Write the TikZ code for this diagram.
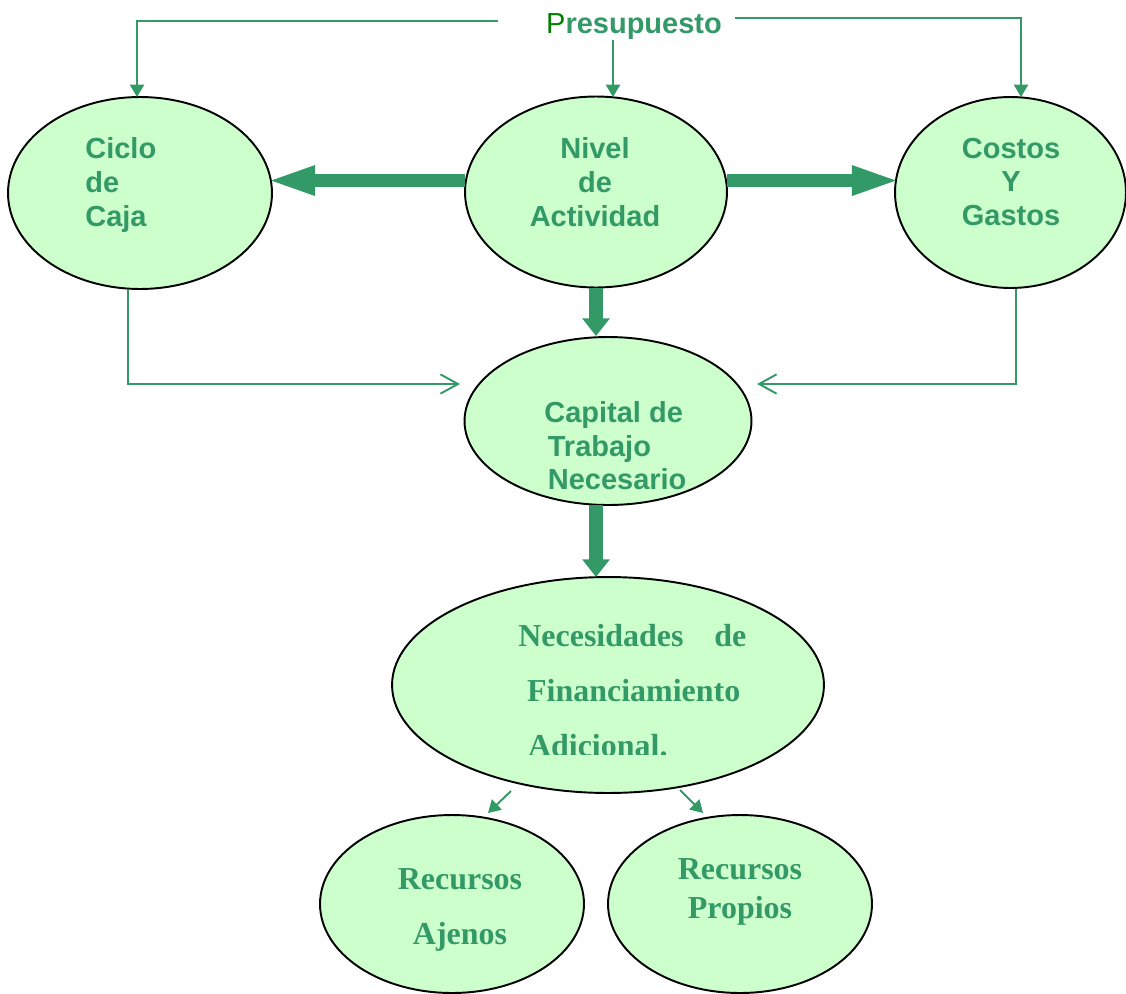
\documentclass[tikz,border=0pt]{standalone}
\usepackage{fontspec}
\setmainfont{Liberation Serif}
\setsansfont{Liberation Sans}
\usetikzlibrary{shapes.geometric,arrows.meta}
\definecolor{leaf}{HTML}{339966}
\definecolor{mint}{HTML}{CCFFCC}
\definecolor{deepgreen}{HTML}{008000}

\begin{document}
\begin{tikzpicture}[x=0.02cm,y=-0.02cm,
  bubble/.style={ellipse, draw=black, line width=1.1pt, fill=mint, inner sep=0pt},
  sanslabel/.style={text=leaf, font=\sffamily\bfseries\fontsize{16.5}{19.3}\selectfont, inner sep=0pt},
  seriflabel/.style={text=leaf, font=\rmfamily\bfseries\fontsize{18.2}{31.3}\selectfont, inner sep=0pt},
  sideshaft/.style={draw=leaf, line width=7.8pt, shorten >=-4pt, -{Triangle[length=28pt,width=15pt]}},
  downshaft/.style={draw=leaf, line width=7.8pt, -{Triangle[length=10pt,width=15pt]}},
  feed/.style={draw=leaf, line width=1.1pt, -{Triangle[length=7pt,width=8pt]}},
  merge/.style={draw=leaf, line width=1.1pt, -{Straight Barb[length=10pt,width=11pt]}},
]
\clip (0,0) rectangle (1126,994);

% ellipses
\node[bubble, minimum width=5.28cm, minimum height=3.84cm] (ciclo) at (140,193) {};
\node[bubble, minimum width=5.24cm, minimum height=3.82cm] (nivel) at (596,192) {};
\node[bubble, minimum width=4.62cm, minimum height=3.82cm] (costos) at (1010.5,192.5) {};
\node[bubble, minimum width=5.74cm, minimum height=3.36cm] (capital) at (608,421) {};
\node[bubble, minimum width=8.64cm, minimum height=4.32cm] (necesidades) at (608,685) {};
\node[bubble, minimum width=5.28cm, minimum height=3.56cm] (ajenos) at (452,904) {};
\node[bubble, minimum width=5.28cm, minimum height=3.56cm] (propios) at (740,904) {};

% budget label and its three feeds
\node[text=leaf, font=\sffamily\bfseries\fontsize{16.5}{19.3}\selectfont, inner sep=0pt] (pre) at (634,27)
  {{\mdseries\color{deepgreen}P}resupuesto};
\coordinate (preL) at (498,21);
\coordinate (preR) at (735,18);
\coordinate (preM) at (613,40);
\draw[feed] (preL) -- (137,21) -- (137,97);
\draw[feed] (preM) -- (613,97);
\draw[feed] (preR) -- (1021,18) -- (1021,97);

% thick arrows from the activity level
\draw[sideshaft] (nivel.175) -- (nivel.175 -| ciclo.east);
\draw[sideshaft] (nivel.5) -- (nivel.5 -| costos.west);
\draw[downshaft] (nivel.south) -- (nivel.south |- capital.north);
\draw[downshaft] (596,505) -- (596,577);

% thin feeds into working capital
\draw[merge] (ciclo.south -| 128,0) -- (128,384) -- (460,384);
\draw[merge] (costos.south -| 1016,0) -- (1016,384) -- (757,384);

% split into the two kinds of resources
\draw[feed] (511,791) -- (488,813);
\draw[feed] (680,790) -- (703,813);

% labels
\node[sanslabel, align=left, anchor=west] at (85,185) {Ciclo\\de\\Caja};
\node[sanslabel, align=center] at (595,182) {Nivel\\de\\Actividad};
\node[sanslabel, align=center] at (1011,182) {Costos\\Y\\Gastos};
\node[sanslabel, align=left, anchor=west, font=\sffamily\bfseries\fontsize{16.5}{19}\selectfont] at (544,446)
  {Capital de\\\hspace{2pt}Trabajo\\\hspace{2pt}Necesario};

\begin{scope}
  \clip (380,590) rectangle (840,754);
  \node[seriflabel, align=left, anchor=west] at (518,691)
    {\hbox to 129.8pt{Necesidades\hfill de}\\\hspace{5pt}Financiamiento\\\hspace{5.5pt}Adicional.};
\end{scope}

\node[seriflabel, align=center] at (460,910) {Recursos\\Ajenos};
\node[seriflabel, align=center, font=\rmfamily\bfseries\fontsize{18.2}{22.2}\selectfont] at (740,892) {Recursos\\Propios};
\end{tikzpicture}
\end{document}
